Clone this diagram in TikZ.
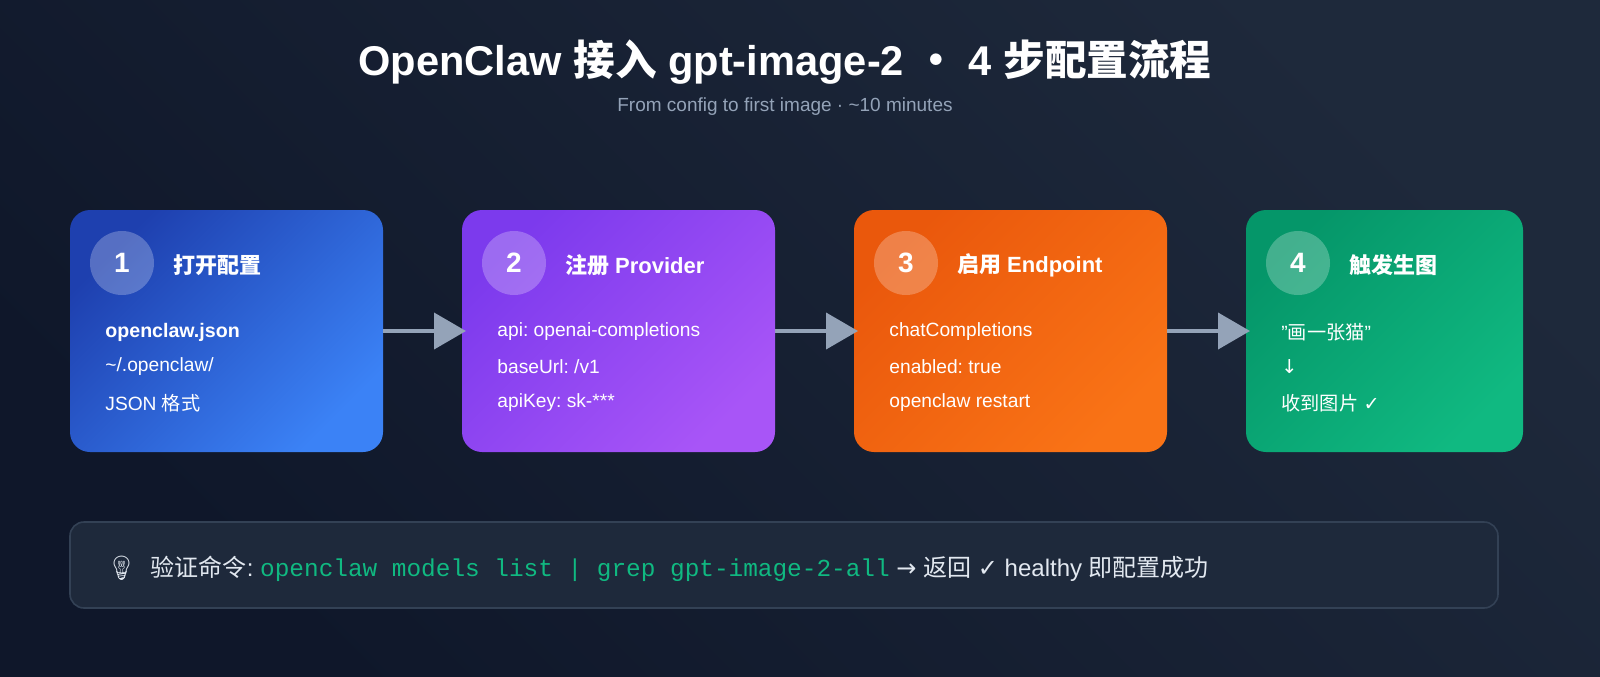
\documentclass[tikz,border=0pt]{standalone}
\usepackage{fontspec}
\setmainfont{Liberation Sans}
\newfontfamily\cjk{Noto Sans CJK SC}
\newfontfamily\monof{Liberation Mono}
\newfontfamily\dejav{DejaVu Sans}
\newfontfamily\emoj{Noto Emoji}
\usetikzlibrary{arrows.meta}
\frenchspacing
\definecolor{bgA}{HTML}{0F172A}
\definecolor{bgB}{HTML}{1E293B}
\definecolor{arr}{HTML}{94A3B8}
\definecolor{barbd}{HTML}{334155}
\definecolor{cmd}{HTML}{10B981}
\definecolor{txt}{HTML}{E2E8F0}
\definecolor{aA}{HTML}{1E40AF}\definecolor{aB}{HTML}{3B82F6}
\definecolor{bA}{HTML}{7C3AED}\definecolor{bB}{HTML}{A855F7}
\definecolor{cA}{HTML}{EA580C}\definecolor{cB}{HTML}{F97316}
\definecolor{dA}{HTML}{059669}\definecolor{dB}{HTML}{10B981}
\begin{document}
\begin{tikzpicture}[x=0.5pt,y=-0.5pt,
  card/.style={rounded corners=10pt},
  num/.style={circle,fill=white,fill opacity=0.25,text opacity=1,minimum size=32pt,inner sep=0pt,text=white,font=\fontsize{14}{16}\selectfont\bfseries},
  ctitle/.style={anchor=west,text=white,font=\fontsize{11}{13}\selectfont\bfseries},
  line/.style={anchor=west,text=white,font=\fontsize{9.6}{10}\selectfont,inner sep=0pt},
  conn/.style={draw=arr,line width=2pt,-{Triangle[length=16pt,width=18pt]},shorten >=-2pt}]
\shade[left color=bgA,right color=bgB,shading angle=135] (0,0) rectangle (1600,676);
\node (title) at (785,62) {\color{white}\fontsize{20.8}{24}\selectfont\bfseries OpenClaw {\cjk 接入} gpt-image-2 {\cjk ・} 4 {\cjk 步配置流程}};
\node (sub) at (785,107) {\color{arr}\fontsize{9.5}{12}\selectfont From config to first image · \char`\~10 minutes};
\foreach \i/\xa/\xb/\ca/\cb in {1/70/383/aA/aB,2/462/775/bA/bB,3/854/1167/cA/cB,4/1246/1523/dA/dB}{
  \path[card,left color=\ca,right color=\cb,shading angle=45] (\xa,210) rectangle (\xb,452);
  \node[num] (n\i) at (\xa+52,263) {\i};
  \coordinate (L\i) at (\xa,331);
  \coordinate (R\i) at (\xb,331);
}
\node[ctitle] (t1) at (166,265) {\cjk 打开配置};
\node[ctitle] (t2) at (558,265) {{\cjk 注册} Provider};
\node[ctitle] (t3) at (950,265) {{\cjk 启用} Endpoint};
\node[ctitle] (t4) at (1342,265) {\cjk 触发生图};
\node[line,font=\fontsize{9.8}{10}\selectfont\bfseries] (a1) at (105,332) {openclaw.json};
\node[line] (a2) at (105,367) {\char`\~/.openclaw/};
\node[line] (a3) at (105,403) {JSON {\cjk 格式}};
\node[line] (b1) at (497,332) {api: openai-completions};
\node[line] (b2) at (497,367) {baseUrl: /v1};
\node[line] (b3) at (497,403) {apiKey: sk-***};
\node[line] (c1) at (889,332) {chatCompletions};
\node[line] (c2) at (889,367) {enabled: true};
\node[line] (c3) at (889,403) {openclaw restart};
\node[line] (d1) at (1281,332) {"{\cjk 画一张猫}"};
\node[line] (d2) at (1281,367) {\dejav ↓};
\node[line] (d3) at (1281,403) {{\cjk 收到图片} {\dejav ✓}};
\draw[conn] (R1) -- (L2);
\draw[conn] (R2) -- (L3);
\draw[conn] (R3) -- (L4);
\path[draw=barbd,fill=bgB,line width=0.8pt,rounded corners=7pt] (70,522) rectangle (1498,608);
\node[anchor=west,inner sep=0pt,text=txt,font=\fontsize{12}{14}\selectfont] (cmdline) at (106,569)
 {{\emoj 💡}\hspace{7pt}{\cjk 验证命令}: {\color{cmd}\monof\fontsize{12.2}{14}\selectfont openclaw models list | grep gpt-image-2-all} {\dejav →} {\cjk 返回} {\dejav ✓} healthy {\cjk 即配置成功}};
\pgfresetboundingbox
\useasboundingbox (0,0) rectangle (1600,676);
\end{tikzpicture}
\end{document}
